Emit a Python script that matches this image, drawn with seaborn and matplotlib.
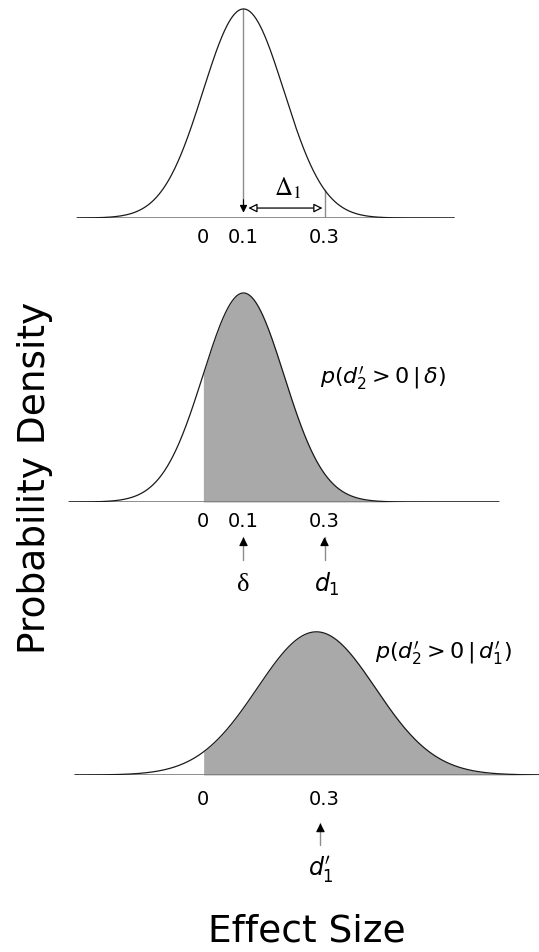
import numpy as np
import pandas as pd
import matplotlib
matplotlib.use("Agg")
import matplotlib.pyplot as plt
import seaborn as sns

# Values
panel_means = [0.1, 0.1, 0.28]
panel_sds = [0.1, 0.1, 0.146]
panel_x_ranges = [(-0.31, 0.62), (-0.33, 0.73), (-0.316, 0.83)]
panel_shade_from = [None, 0.0, 0.0]
panel_ticks = [[0, 0.1, 0.3], [0, 0.1, 0.3], [0, 0.3]]
panel_tick_labels = [["0", "0.1", "0.3"], ["0", "0.1", "0.3"], ["0", "0.3"]]
delta_1 = (0.1, 0.3)
arrow_marks_2 = [0.1, 0.3]
arrow_marks_3 = [0.29]

sns.set_style("white")
plt.rcParams["font.family"] = ["DejaVu Sans"]
plt.rcParams["mathtext.fontset"] = "dejavusans"
plt.rcParams["text.color"] = "black"
plt.rcParams["xtick.color"] = "black"

W, H = 539, 952
S = 52.4          # pixels per density unit
XLIM = (-203 / 405, 336 / 405)
CURVE = "#1a1a1a"
THIN = "#8c8c8c"
SHADE = "#a9a9a9"

fig = plt.figure(figsize=(W / 100, H / 100), dpi=100)


def panel(top, bottom):
    ax = fig.add_axes([0, 1 - bottom / H, 1, (bottom - top) / H])
    ax.set_xlim(*XLIM)
    ax.set_ylim(0, (bottom - top) / S)
    ax.set_yticks([])
    for sp in ax.spines.values():
        sp.set_visible(False)
    return ax


def pdf(x, m, s):
    return np.exp(-0.5 * ((x - m) / s) ** 2) / (s * np.sqrt(2 * np.pi))


axes = [panel(0, 218), panel(280, 502), panel(600, 775)]
pads = [7, 7, 11]

for i, ax in enumerate(axes):
    x0, x1 = panel_x_ranges[i]
    xs = np.linspace(x0, x1, 600)
    df = pd.DataFrame({"x": xs, "y": pdf(xs, panel_means[i], panel_sds[i])})
    if panel_shade_from[i] is not None:
        m = df["x"] >= panel_shade_from[i]
        ax.fill_between(df["x"][m], 0, df["y"][m], color=SHADE, lw=0, zorder=1)
    ax.plot([x0, x1], [0, 0], color="#7a7a7a", lw=1.2, zorder=2)
    sns.lineplot(data=df, x="x", y="y", color=CURVE, lw=0.9, ax=ax, zorder=3)
    ax.set_xlabel("")
    ax.set_ylabel("")
    ax.set_xticks(panel_ticks[i], panel_tick_labels[i])
    ax.tick_params(axis="x", length=0, pad=pads[i], labelsize=14)


def up_arrow(ax, x, y_head, y_tail):
    ax.plot([x, x], [y_tail, y_head], color=THIN, lw=1.0, clip_on=False)
    ax.annotate("", xy=(x, y_head), xytext=(x, y_head - 0.14),
                arrowprops=dict(arrowstyle="-|>", color="black", lw=0.8,
                                mutation_scale=13, shrinkA=0, shrinkB=0),
                annotation_clip=False)


# panel 1: mean arrow, interval and Delta_1
ax = axes[0]
m1, s1 = panel_means[0], panel_sds[0]
ax.plot([delta_1[0]] * 2, [0.15, pdf(delta_1[0], m1, s1)], color=THIN, lw=1.0)
ax.annotate("", xy=(delta_1[0], 0.1), xytext=(delta_1[0], 0.35),
            arrowprops=dict(arrowstyle="-|>", color="black", lw=0.8,
                            mutation_scale=11, shrinkA=0, shrinkB=0))
ax.plot([delta_1[1]] * 2, [0, pdf(delta_1[1], m1, s1)], color=THIN, lw=1.0)
ax.annotate("", xy=(delta_1[0] + 0.012, 0.19), xytext=(delta_1[1] - 0.005, 0.19),
            arrowprops=dict(arrowstyle="<|-|>", fc="white", ec="black", lw=0.9,
                            mutation_scale=13, shrinkA=0, shrinkB=0))
ax.text(0.21, 0.57, r"$\Delta_1$", math_fontfamily="stix", fontsize=18,
        ha="center", va="center")

# panel 2
ax = axes[1]
ax.text(0.289, 2.37, r"$\mathit{p(d^{\prime}_{2} > 0\,|\,\delta)}$", fontsize=16,
        ha="left", va="center")
for xm in arrow_marks_2:
    up_arrow(ax, xm, -0.67, -1.11)
ax.text(arrow_marks_2[0], -1.58, "δ", family="Liberation Serif", fontsize=19,
        ha="center", va="center", clip_on=False)
ax.text(arrow_marks_2[1] + 0.005, -1.58, r"$d_1$", fontsize=17,
        ha="center", va="center", clip_on=False)

# panel 3
ax = axes[2]
ax.text(0.425, 2.33, r"$\mathit{p(d^{\prime}_{2} > 0\,|\,d^{\prime}_{1})}$", fontsize=16,
        ha="left", va="center")
for xm in arrow_marks_3:
    up_arrow(ax, xm, -0.92, -1.34)
ax.text(arrow_marks_3[0], -1.81, r"$d^{\prime}_{1}$", fontsize=17,
        ha="center", va="center", clip_on=False)

fig.text(307 / W, 1 - 932 / H, "Effect Size", fontsize=27, ha="center", va="center")
fig.text(35 / W, 1 - 478 / H, "Probability Density", fontsize=27, rotation=90,
         ha="center", va="center")

fig.savefig("out.png", dpi=100)
